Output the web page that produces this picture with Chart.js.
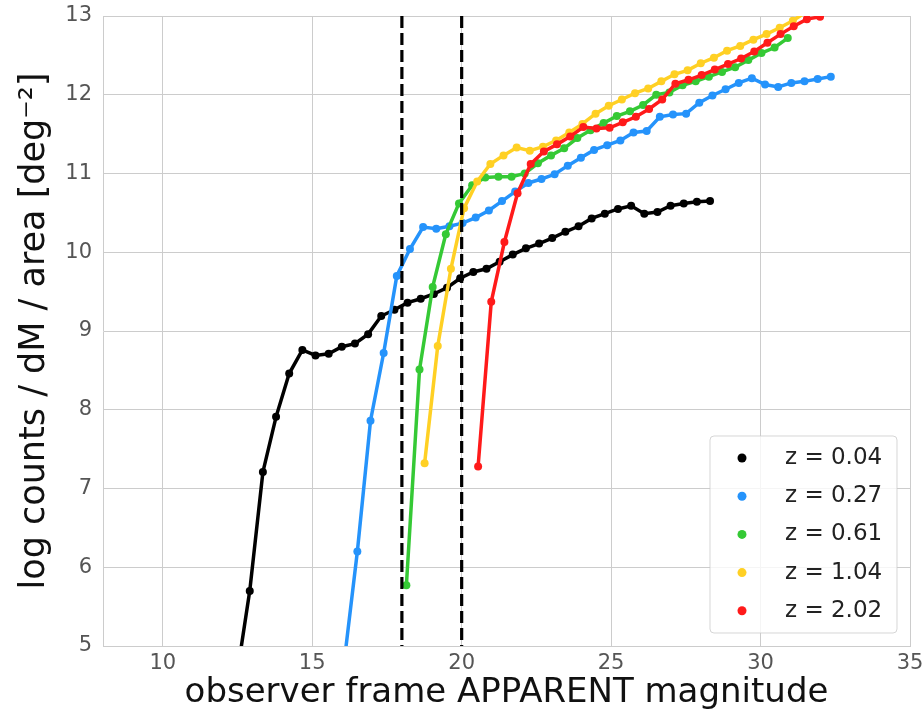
<!DOCTYPE html>
<html>
<head>
<meta charset="utf-8">
<script src="https://cdn.jsdelivr.net/npm/chart.js@4.4.1/dist/chart.umd.min.js"></script>
<style>
  body { margin: 0; background: #fff; }
  #wrap { width: 924px; height: 716px; }
</style>
</head>
<body>
<div id="wrap"><canvas id="countsChart" width="924" height="716"></canvas></div>
<script>
// Redshift slices
const labels = ['z = 0.04', 'z = 0.27', 'z = 0.61', 'z = 1.04', 'z = 2.02'];
const colors = ['#000000', '#2593fb', '#35c935', '#ffd024', '#ff1a1a'];

// z = 0.04
const magZ004 = [12.47, 12.91, 13.35, 13.79, 14.23, 14.67, 15.11, 15.55, 15.99, 16.43, 16.87, 17.31, 17.75,
  18.19, 18.63, 19.07, 19.51, 19.95, 20.39, 20.83, 21.27, 21.71, 22.15, 22.59, 23.03, 23.47, 23.91, 24.35,
  24.79, 25.23, 25.67, 26.11, 26.55, 26.99, 27.43, 27.87, 28.31];
const cntZ004 = [4.6, 5.70, 7.21, 7.91, 8.46, 8.76, 8.69, 8.71, 8.80, 8.84, 8.96, 9.19, 9.27,
  9.36, 9.41, 9.47, 9.55, 9.67, 9.75, 9.79, 9.88, 9.97, 10.05, 10.11, 10.18, 10.26, 10.33, 10.43,
  10.49, 10.55, 10.59, 10.49, 10.51, 10.59, 10.62, 10.64, 10.65];

// z = 0.27
const magZ027 = [16.07, 16.51, 16.95, 17.39, 17.83, 18.27, 18.71, 19.15, 19.59, 20.03, 20.47, 20.91, 21.35,
  21.79, 22.23, 22.67, 23.11, 23.55, 23.99, 24.43, 24.87, 25.31, 25.75, 26.19, 26.63, 27.07, 27.51, 27.95,
  28.39, 28.83, 29.27, 29.71, 30.15, 30.59, 31.03, 31.47, 31.91, 32.35];
const cntZ027 = [4.8, 6.20, 7.86, 8.72, 9.70, 10.04, 10.32, 10.30, 10.33, 10.37, 10.44, 10.53, 10.65,
  10.77, 10.88, 10.93, 10.99, 11.10, 11.20, 11.30, 11.36, 11.42, 11.52, 11.54, 11.72, 11.75, 11.76, 11.90,
  11.99, 12.07, 12.15, 12.21, 12.13, 12.10, 12.15, 12.17, 12.20, 12.23];

// z = 0.61
const magZ061 = [18.15, 18.59, 19.03, 19.47, 19.91, 20.35, 20.79, 21.23, 21.67, 22.11, 22.55, 22.99, 23.43,
  23.87, 24.31, 24.75, 25.19, 25.63, 26.07, 26.51, 26.95, 27.39, 27.83, 28.27, 28.71, 29.15, 29.59, 30.03,
  30.47, 30.91];
const cntZ061 = [5.77, 8.51, 9.56, 10.23, 10.62, 10.85, 10.95, 10.96, 10.96, 11.00, 11.13, 11.23, 11.32,
  11.45, 11.55, 11.64, 11.73, 11.79, 11.87, 12.00, 12.03, 12.12, 12.17, 12.23, 12.29, 12.35, 12.44, 12.53,
  12.60, 12.72];

// z = 1.04
const magZ104 = [18.76, 19.20, 19.64, 20.08, 20.52, 20.96, 21.40, 21.84, 22.28, 22.72, 23.16, 23.60, 24.04,
  24.48, 24.92, 25.36, 25.80, 26.24, 26.68, 27.12, 27.56, 28.00, 28.44, 28.88, 29.32, 29.76, 30.20, 30.64,
  31.08, 31.52];
const cntZ104 = [7.32, 8.81, 9.79, 10.56, 10.90, 11.12, 11.23, 11.33, 11.29, 11.34, 11.42, 11.52, 11.63,
  11.76, 11.86, 11.94, 12.02, 12.08, 12.17, 12.26, 12.31, 12.40, 12.47, 12.56, 12.62, 12.70, 12.77, 12.85,
  12.94, 13.05];

// z = 2.02
const magZ202 = [20.55, 20.99, 21.43, 21.87, 22.31, 22.75, 23.19, 23.63, 24.07, 24.51, 24.95, 25.39, 25.83,
  26.27, 26.71, 27.15, 27.59, 28.03, 28.47, 28.91, 29.35, 29.79, 30.23, 30.67, 31.11, 31.55, 31.99];
const cntZ202 = [7.28, 9.37, 10.13, 10.75, 11.12, 11.28, 11.37, 11.47, 11.59, 11.57, 11.58, 11.65, 11.72,
  11.82, 11.94, 12.14, 12.19, 12.25, 12.32, 12.39, 12.46, 12.55, 12.66, 12.77, 12.87, 12.96, 12.99];

// Magnitude cuts (dashed lines) and axis ticks
const cutMags = [18.0, 20.0];
const xTicks = [10, 15, 20, 25, 30, 35];
const yTicks = [5, 6, 7, 8, 9, 10, 11, 12, 13];

const mags = [magZ004, magZ027, magZ061, magZ104, magZ202];
const counts = [cntZ004, cntZ027, cntZ061, cntZ104, cntZ202];

const FONT = "'DejaVu Sans', sans-serif";
const GRID = '#cccccc';

// Vertical dashed lines at the magnitude cuts, drawn over the curves
const cutLines = {
  id: 'cutLines',
  afterDatasetsDraw(chart) {
    const { ctx, chartArea, scales } = chart;
    ctx.save();
    ctx.strokeStyle = '#000';
    ctx.lineWidth = 3.2;
    ctx.setLineDash([12, 5]);
    cutMags.forEach(m => {
      const x = scales.x.getPixelForValue(m);
      ctx.beginPath();
      ctx.moveTo(x, chartArea.top);
      ctx.lineTo(x, chartArea.bottom);
      ctx.stroke();
    });
    ctx.restore();
  }
};

// Matplotlib-like legend box in the lower right corner
const cornerLegend = {
  id: 'cornerLegend',
  afterDraw(chart) {
    const { ctx, chartArea } = chart;
    const w = 187, h = 197;
    const x0 = chartArea.right - 13 - w;
    const y0 = chartArea.bottom - 13 - h;
    ctx.save();
    ctx.beginPath();
    ctx.roundRect(x0, y0, w, h, 4);
    ctx.fillStyle = 'rgba(255,255,255,0.8)';
    ctx.fill();
    ctx.strokeStyle = 'rgba(204,204,204,0.8)';
    ctx.lineWidth = 1;
    ctx.stroke();
    ctx.font = '23px ' + FONT;
    ctx.textBaseline = 'middle';
    ctx.textAlign = 'left';
    labels.forEach((lab, i) => {
      const y = y0 + 22 + i * 38.2;
      ctx.beginPath();
      ctx.arc(x0 + 32, y, 4.5, 0, Math.PI * 2);
      ctx.fillStyle = colors[i];
      ctx.fill();
      ctx.fillStyle = '#222';
      ctx.fillText(lab, x0 + 75, y);
    });
    ctx.restore();
  }
};

const ctx = document.getElementById('countsChart').getContext('2d');
new Chart(ctx, {
  type: 'line',
  data: {
    datasets: labels.map((lab, i) => ({
      label: lab,
      data: mags[i].map((m, j) => ({ x: m, y: counts[i][j] })),
      borderColor: colors[i],
      backgroundColor: colors[i],
      borderWidth: 3.5,
      pointRadius: 4,
      pointBorderWidth: 0,
      tension: 0,
      order: labels.length - i
    }))
  },
  options: {
    responsive: false,
    animation: false,
    layout: { autoPadding: false, padding: { top: 16, right: 14, left: 0, bottom: 0 } },
    plugins: {
      legend: { display: false },
      tooltip: { enabled: false }
    },
    scales: {
      x: {
        type: 'linear',
        min: 8,
        max: 35,
        afterBuildTicks: s => { s.ticks = xTicks.map(v => ({ value: v })); },
        afterFit: s => { s.height = 70; s.paddingLeft = 0; s.paddingRight = 0; },
        ticks: { color: '#555', font: { family: FONT, size: 21 }, padding: 5, autoSkip: false, maxRotation: 0 },
        grid: { color: GRID, lineWidth: 1, drawTicks: false },
        border: { color: GRID, width: 1 },
        title: {
          display: true,
          text: 'observer frame APPARENT magnitude',
          color: '#111',
          font: { family: FONT, size: 34, lineHeight: 1 },
          padding: { top: 0, bottom: 6 }
        }
      },
      y: {
        min: 5,
        max: 13,
        afterBuildTicks: s => { s.ticks = yTicks.map(v => ({ value: v })); },
        afterFit: s => { s.width = 103; s.paddingTop = 0; s.paddingBottom = 0; },
        ticks: { color: '#555', font: { family: FONT, size: 21 }, padding: 11, autoSkip: false },
        grid: { color: GRID, lineWidth: 1, drawTicks: false },
        border: { color: GRID, width: 1 },
        title: {
          display: true,
          text: 'log counts / dM / area [deg\u207B\u00B2]',
          color: '#111',
          font: { family: FONT, size: 35, lineHeight: 1 },
          padding: { top: 17, bottom: 0 }
        }
      }
    }
  },
  plugins: [cutLines, cornerLegend]
});
</script>
</body>
</html>
